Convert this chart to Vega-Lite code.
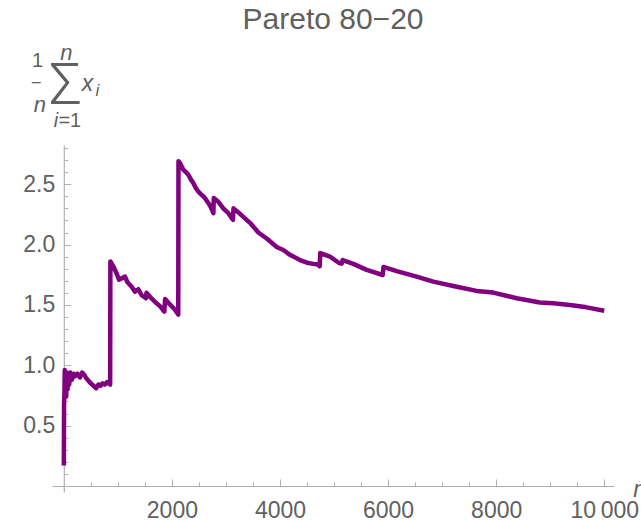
{
  "$schema": "https://vega.github.io/schema/vega-lite/v6.json",
  "width": 562,
  "height": 347,
  "autosize": {"type": "none"},
  "padding": {"left": 52, "top": 145, "right": 27, "bottom": 29},
  "background": "white",
  "title": {"text": "Pareto 80\u221220", "anchor": "middle", "frame": "group", "orient": "top", "font": "Liberation Sans", "fontSize": 30, "fontWeight": "normal", "color": "#606060", "baseline": "alphabetic", "offset": -18.3},
  "config": {
    "view": {"stroke": null},
    "axis": {"titleFont": "Liberation Sans", "titleFontWeight": "normal", "titleColor": "#606060", "labelFont": "Liberation Sans", "labelColor": "#606060", "domainColor": "#b0b0b0", "tickColor": "#b0b0b0", "grid": false}
  },
  "data": {"values": [
    {"n": 1, "v": 0.17}, {"n": 3, "v": 0.45}, {"n": 5, "v": 0.66}, {"n": 8, "v": 0.72}, {"n": 12, "v": 0.77},
    {"n": 18, "v": 0.96}, {"n": 25, "v": 0.78}, {"n": 35, "v": 0.93}, {"n": 45, "v": 0.74}, {"n": 55, "v": 0.94},
    {"n": 70, "v": 0.80}, {"n": 85, "v": 0.92}, {"n": 100, "v": 0.84}, {"n": 120, "v": 0.94}, {"n": 150, "v": 0.88},
    {"n": 180, "v": 0.93}, {"n": 210, "v": 0.91}, {"n": 250, "v": 0.93}, {"n": 300, "v": 0.90}, {"n": 340, "v": 0.94},
    {"n": 380, "v": 0.92}, {"n": 420, "v": 0.89}, {"n": 460, "v": 0.87}, {"n": 500, "v": 0.85}, {"n": 550, "v": 0.83},
    {"n": 600, "v": 0.81}, {"n": 640, "v": 0.84}, {"n": 680, "v": 0.83}, {"n": 720, "v": 0.85}, {"n": 760, "v": 0.84},
    {"n": 800, "v": 0.86}, {"n": 858, "v": 0.84}, {"n": 862, "v": 1.86}, {"n": 916, "v": 1.82}, {"n": 978, "v": 1.76},
    {"n": 1021, "v": 1.71}, {"n": 1071, "v": 1.72}, {"n": 1132, "v": 1.735}, {"n": 1175, "v": 1.69}, {"n": 1256, "v": 1.65},
    {"n": 1317, "v": 1.61}, {"n": 1379, "v": 1.63}, {"n": 1441, "v": 1.58}, {"n": 1520, "v": 1.555}, {"n": 1530, "v": 1.60},
    {"n": 1600, "v": 1.565}, {"n": 1700, "v": 1.52}, {"n": 1780, "v": 1.49}, {"n": 1860, "v": 1.445}, {"n": 1875, "v": 1.55},
    {"n": 1950, "v": 1.51}, {"n": 2040, "v": 1.47}, {"n": 2118, "v": 1.42}, {"n": 2122, "v": 2.69}, {"n": 2150, "v": 2.675},
    {"n": 2211, "v": 2.62}, {"n": 2260, "v": 2.60}, {"n": 2304, "v": 2.58}, {"n": 2350, "v": 2.54}, {"n": 2396, "v": 2.51},
    {"n": 2440, "v": 2.47}, {"n": 2489, "v": 2.44}, {"n": 2530, "v": 2.42}, {"n": 2581, "v": 2.40}, {"n": 2620, "v": 2.38},
    {"n": 2674, "v": 2.345}, {"n": 2720, "v": 2.31}, {"n": 2768, "v": 2.26}, {"n": 2775, "v": 2.385}, {"n": 2859, "v": 2.355},
    {"n": 2951, "v": 2.30}, {"n": 3044, "v": 2.26}, {"n": 3130, "v": 2.205}, {"n": 3140, "v": 2.30}, {"n": 3260, "v": 2.255},
    {"n": 3445, "v": 2.18}, {"n": 3600, "v": 2.10}, {"n": 3754, "v": 2.05}, {"n": 3939, "v": 1.98}, {"n": 4062, "v": 1.955},
    {"n": 4185, "v": 1.915}, {"n": 4370, "v": 1.872}, {"n": 4500, "v": 1.85}, {"n": 4617, "v": 1.84}, {"n": 4700, "v": 1.835},
    {"n": 4735, "v": 1.82}, {"n": 4745, "v": 1.93}, {"n": 4925, "v": 1.90}, {"n": 5100, "v": 1.845}, {"n": 5141, "v": 1.842},
    {"n": 5160, "v": 1.872}, {"n": 5357, "v": 1.84}, {"n": 5604, "v": 1.79}, {"n": 5750, "v": 1.77}, {"n": 5900, "v": 1.748},
    {"n": 5915, "v": 1.815}, {"n": 6159, "v": 1.78}, {"n": 6529, "v": 1.735}, {"n": 6837, "v": 1.693}, {"n": 7270, "v": 1.651},
    {"n": 7640, "v": 1.616}, {"n": 7946, "v": 1.602}, {"n": 8379, "v": 1.555}, {"n": 8810, "v": 1.52}, {"n": 9057, "v": 1.513},
    {"n": 9365, "v": 1.50}, {"n": 9674, "v": 1.48}, {"n": 10000, "v": 1.452}
  ]},
  "layer": [
    {
      "mark": {"type": "line", "color": "#800080", "strokeWidth": 4.5, "strokeJoin": "round"},
      "encoding": {
        "x": {"field": "n", "type": "quantitative", "scale": {"domain": [-218, 10180], "nice": false, "zero": false},
          "axis": {"orient": "bottom", "values": [2000, 4000, 6000, 8000, 10000],
            "offset": -6, "domainWidth": 1.2, "tickWidth": 1, "tickSize": -7,
            "format": "d",
            "labelExpr": "datum.value === 10000 ? '10\u2009000' : datum.label",
            "labelFontSize": 23, "labelPadding": 20, "labelFlush": false, "labelOverlap": false,
            "title": "n", "titleX": 580.7, "titleY": 10.7, "titleAlign": "left", "titleBaseline": "alphabetic", "titleFontStyle": "italic", "titleFontSize": 23}},
        "y": {"field": "v", "type": "quantitative", "scale": {"domain": [-0.05, 2.825], "nice": false, "zero": false},
          "axis": {"orient": "left", "values": [0.5, 1.0, 1.5, 2.0, 2.5],
            "offset": -11.8, "domainWidth": 1.2, "tickWidth": 1, "tickSize": -7,
            "format": ".1f",
            "labelFontSize": 23, "labelPadding": 16, "labelFlush": false, "labelOverlap": false,
            "title": null}}
      }
    },
    {
      "mark": {"type": "line", "opacity": 0},
      "encoding": {
        "x": {"field": "n", "type": "quantitative", "scale": {"domain": [-218, 10180], "nice": false, "zero": false},
          "axis": {"orient": "bottom", "values": [500,1000,1500,2500,3000,3500,4500,5000,5500,6500,7000,7500,8500,9000,9500],
            "offset": -6, "domain": false, "tickWidth": 1, "tickSize": -4, "labels": false, "title": null}},
        "y": {"field": "v", "type": "quantitative", "scale": {"domain": [-0.05, 2.825], "nice": false, "zero": false},
          "axis": {"orient": "left", "values": [0.1,0.2,0.3,0.4,0.6,0.7,0.8,0.9,1.1,1.2,1.3,1.4,1.6,1.7,1.8,1.9,2.1,2.2,2.3,2.4,2.6,2.7,2.8],
            "offset": -11.8, "domain": false, "tickWidth": 1, "tickSize": -4, "labels": false, "title": null}}
      }
    },
    {
      "mark": {"type": "line", "opacity": 0},
      "encoding": {
        "x": {"field": "n", "type": "quantitative", "scale": {"domain": [-218, 10180], "nice": false, "zero": false}, "axis": null},
        "y": {"field": "v", "type": "quantitative", "scale": {"domain": [-0.05, 2.825], "nice": false, "zero": false},
          "axis": {"orient": "left", "offset": 0, "domain": false, "ticks": false, "labels": false, "title": "1", "titleAngle": 0, "titleX": -15, "titleY": -78.3, "titleAlign": "center", "titleBaseline": "alphabetic", "titleFontSize": 20}}
      }
    },
    {
      "mark": {"type": "line", "opacity": 0},
      "encoding": {
        "x": {"field": "n", "type": "quantitative", "scale": {"domain": [-218, 10180], "nice": false, "zero": false}, "axis": null},
        "y": {"field": "v", "type": "quantitative", "scale": {"domain": [-0.05, 2.825], "nice": false, "zero": false},
          "axis": {"orient": "left", "offset": 0, "domain": false, "ticks": false, "labels": false, "title": "\u2013", "titleAngle": 0, "titleX": -16.2, "titleY": -58.9, "titleAlign": "center", "titleBaseline": "alphabetic", "titleFontSize": 16}}
      }
    },
    {
      "mark": {"type": "line", "opacity": 0},
      "encoding": {
        "x": {"field": "n", "type": "quantitative", "scale": {"domain": [-218, 10180], "nice": false, "zero": false}, "axis": null},
        "y": {"field": "v", "type": "quantitative", "scale": {"domain": [-0.05, 2.825], "nice": false, "zero": false},
          "axis": {"orient": "left", "offset": 0, "domain": false, "ticks": false, "labels": false, "title": "n", "titleAngle": 0, "titleX": -12.7, "titleY": -33.3, "titleAlign": "center", "titleBaseline": "alphabetic", "titleFontSize": 22, "titleFontStyle": "italic"}}
      }
    },
    {
      "mark": {"type": "line", "opacity": 0},
      "encoding": {
        "x": {"field": "n", "type": "quantitative", "scale": {"domain": [-218, 10180], "nice": false, "zero": false}, "axis": null},
        "y": {"field": "v", "type": "quantitative", "scale": {"domain": [-0.05, 2.825], "nice": false, "zero": false},
          "axis": {"orient": "left", "offset": 0, "domain": false, "ticks": false, "labels": false, "title": "\u03a3", "titleAngle": 0, "titleX": 13, "titleY": -41.7, "titleAlign": "center", "titleBaseline": "alphabetic", "titleFontSize": 58, "titleFont": "Roboto", "titleFontWeight": 300}}
      }
    },
    {
      "mark": {"type": "line", "opacity": 0},
      "encoding": {
        "x": {"field": "n", "type": "quantitative", "scale": {"domain": [-218, 10180], "nice": false, "zero": false}, "axis": null},
        "y": {"field": "v", "type": "quantitative", "scale": {"domain": [-0.05, 2.825], "nice": false, "zero": false},
          "axis": {"orient": "left", "offset": 0, "domain": false, "ticks": false, "labels": false, "title": "n", "titleAngle": 0, "titleX": 13.8, "titleY": -86, "titleAlign": "center", "titleBaseline": "alphabetic", "titleFontSize": 22, "titleFontStyle": "italic"}}
      }
    },
    {
      "mark": {"type": "line", "opacity": 0},
      "encoding": {
        "x": {"field": "n", "type": "quantitative", "scale": {"domain": [-218, 10180], "nice": false, "zero": false}, "axis": null},
        "y": {"field": "v", "type": "quantitative", "scale": {"domain": [-0.05, 2.825], "nice": false, "zero": false},
          "axis": {"orient": "left", "offset": 0, "domain": false, "ticks": false, "labels": false, "title": "i", "titleAngle": 0, "titleX": 1.3, "titleY": -19, "titleAlign": "left", "titleBaseline": "alphabetic", "titleFontSize": 20, "titleFontStyle": "italic"}}
      }
    },
    {
      "mark": {"type": "line", "opacity": 0},
      "encoding": {
        "x": {"field": "n", "type": "quantitative", "scale": {"domain": [-218, 10180], "nice": false, "zero": false}, "axis": null},
        "y": {"field": "v", "type": "quantitative", "scale": {"domain": [-0.05, 2.825], "nice": false, "zero": false},
          "axis": {"orient": "left", "offset": 0, "domain": false, "ticks": false, "labels": false, "title": "=1", "titleAngle": 0, "titleX": 5.9, "titleY": -19, "titleAlign": "left", "titleBaseline": "alphabetic", "titleFontSize": 20}}
      }
    },
    {
      "mark": {"type": "line", "opacity": 0},
      "encoding": {
        "x": {"field": "n", "type": "quantitative", "scale": {"domain": [-218, 10180], "nice": false, "zero": false}, "axis": null},
        "y": {"field": "v", "type": "quantitative", "scale": {"domain": [-0.05, 2.825], "nice": false, "zero": false},
          "axis": {"orient": "left", "offset": 0, "domain": false, "ticks": false, "labels": false, "title": "x", "titleAngle": 0, "titleX": 35, "titleY": -55, "titleAlign": "center", "titleBaseline": "alphabetic", "titleFontSize": 23, "titleFontStyle": "italic"}}
      }
    },
    {
      "mark": {"type": "line", "opacity": 0},
      "encoding": {
        "x": {"field": "n", "type": "quantitative", "scale": {"domain": [-218, 10180], "nice": false, "zero": false}, "axis": null},
        "y": {"field": "v", "type": "quantitative", "scale": {"domain": [-0.05, 2.825], "nice": false, "zero": false},
          "axis": {"orient": "left", "offset": 0, "domain": false, "ticks": false, "labels": false, "title": "i", "titleAngle": 0, "titleX": 45, "titleY": -50, "titleAlign": "center", "titleBaseline": "alphabetic", "titleFontSize": 17, "titleFontStyle": "italic"}}
      }
    }
  ],
  "resolve": {"axis": {"x": "independent", "y": "independent"}}
}
